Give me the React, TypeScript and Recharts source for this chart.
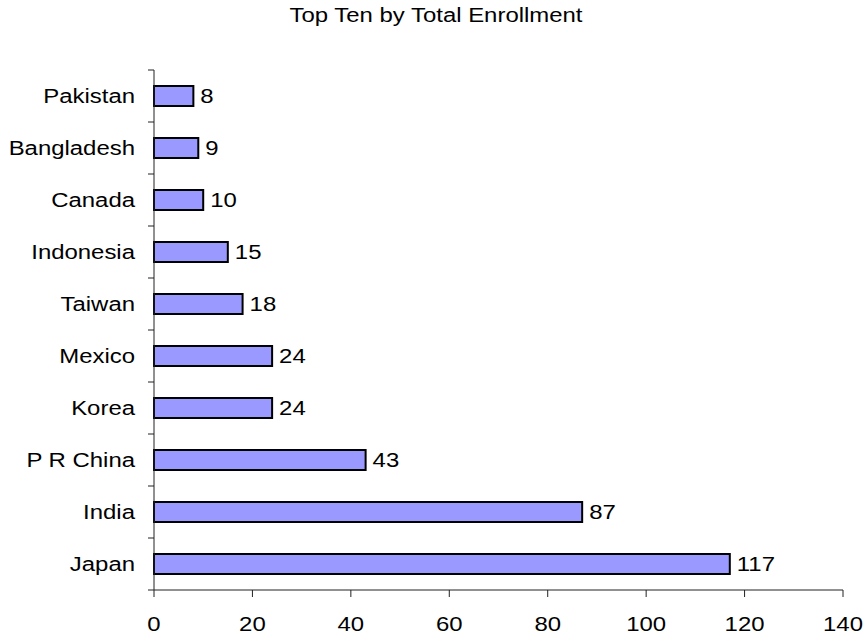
import { Bar, BarChart, LabelList, XAxis, YAxis } from 'recharts';

const countries = ['Pakistan', 'Bangladesh', 'Canada', 'Indonesia', 'Taiwan', 'Mexico', 'Korea', 'P R China', 'India', 'Japan'];
const enrollment = [8, 9, 10, 15, 18, 24, 24, 43, 87, 117];
const xTicks = [0, 20, 40, 60, 80, 100, 120, 140];

const WIDTH = 867;
const HEIGHT = 641;
const MARGIN = { top: 70, right: 24, bottom: 11, left: 0 };
const Y_AXIS_W = 154;
const X_AXIS_H = 40;
const PLOT_BOTTOM = HEIGHT - MARGIN.bottom - X_AXIS_H;
const PLOT_H = PLOT_BOTTOM - MARGIN.top;
const BAND = PLOT_H / countries.length;
const FONT = '"Liberation Sans", Arial, sans-serif';
const FONT_SIZE = 21;
const STRETCH = 1.14; // the source text is a bit wider than plain Arial
const AXIS_COLOR = '#222';

const data = countries.map((name, i) => ({ name, value: enrollment[i] }));

function WideText({ x, y, anchor, children }: { x: number; y: number; anchor: 'start' | 'middle' | 'end'; children: React.ReactNode }) {
  return (
    <text
      transform={`translate(${x},${y}) scale(${STRETCH},1)`}
      textAnchor={anchor}
      fontSize={FONT_SIZE}
      fontFamily={FONT}
      fill="#000"
    >
      {children}
    </text>
  );
}

// category labels plus tick marks on the band boundaries
function CategoryTick({ y, payload, index }: { y?: number; payload?: { value: string }; index?: number }) {
  const cy = y ?? 0;
  const axisX = Y_AXIS_W;
  return (
    <g>
      <line x1={axisX - 6} x2={axisX} y1={cy - BAND / 2} y2={cy - BAND / 2} stroke={AXIS_COLOR} />
      {index === countries.length - 1 && (
        <line x1={axisX - 6} x2={axisX} y1={cy + BAND / 2} y2={cy + BAND / 2} stroke={AXIS_COLOR} />
      )}
      <WideText x={axisX - 19} y={cy + 7} anchor="end">
        {payload?.value}
      </WideText>
    </g>
  );
}

function ValueTick({ x, payload }: { x?: number; payload?: { value: number } }) {
  return (
    <WideText x={x ?? 0} y={PLOT_BOTTOM + 41} anchor="middle">
      {payload?.value}
    </WideText>
  );
}

function BarValue({ x, y, width, height, value }: { x?: number; y?: number; width?: number; height?: number; value?: number }) {
  const bx = Number(x ?? 0) + Number(width ?? 0);
  const by = Number(y ?? 0) + Number(height ?? 0) / 2;
  return (
    <WideText x={bx + 7} y={by + 7} anchor="start">
      {value}
    </WideText>
  );
}

export default function App() {
  return (
    <div style={{ position: 'absolute', left: 0, top: 0, width: WIDTH, height: HEIGHT, background: '#fff' }}>
      <svg width={WIDTH} height={40} style={{ position: 'absolute', left: 0, top: 0 }}>
        <WideText x={436} y={22} anchor="middle">
          Top Ten by Total Enrollment
        </WideText>
      </svg>
      <BarChart width={WIDTH} height={HEIGHT} data={data} layout="vertical" margin={MARGIN}>
        <XAxis
          type="number"
          domain={[0, 140]}
          ticks={xTicks}
          interval={0}
          height={X_AXIS_H}
          tickSize={7}
          stroke={AXIS_COLOR}
          tick={<ValueTick />}
        />
        <YAxis
          type="category"
          dataKey="name"
          width={Y_AXIS_W}
          tickLine={false}
          stroke={AXIS_COLOR}
          interval={0}
          tick={<CategoryTick />}
        />
        <Bar dataKey="value" fill="#9999ff" stroke="#000" strokeWidth={2} barSize={20} isAnimationActive={false}>
          <LabelList dataKey="value" content={<BarValue />} />
        </Bar>
      </BarChart>
    </div>
  );
}
